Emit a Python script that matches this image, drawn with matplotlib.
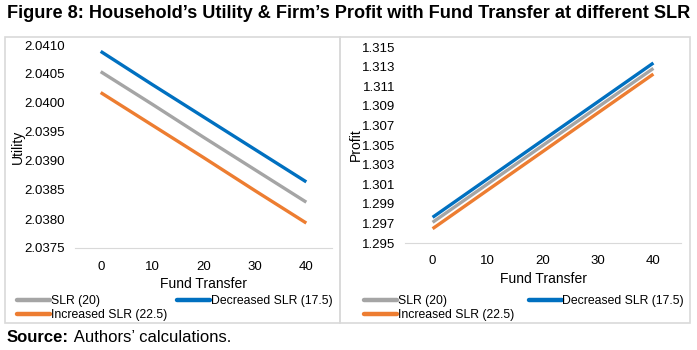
import matplotlib.pyplot as plt
from matplotlib.patches import Rectangle

plt.rcParams['font.family'] = ['Liberation Sans', 'DejaVu Sans']

# data
fund_transfer = [0, 10, 20, 30, 40]
utility_slr20 = [2.04054, 2.03998, 2.03941, 2.03885, 2.03829]
utility_dec = [2.04089, 2.04032, 2.03976, 2.03920, 2.03864]
utility_inc = [2.04018, 2.03962, 2.03906, 2.03849, 2.03793]
profit_slr20 = [1.29711, 1.30104, 1.30497, 1.30889, 1.31282]
profit_dec = [1.29762, 1.30156, 1.30550, 1.30943, 1.31337]
profit_inc = [1.29646, 1.30041, 1.30435, 1.30830, 1.31224]
utility_ticks = [2.0375, 2.0380, 2.0385, 2.0390, 2.0395, 2.0400, 2.0405, 2.0410]
profit_ticks = [1.295, 1.297, 1.299, 1.301, 1.303, 1.305, 1.307, 1.309, 1.311, 1.313, 1.315]

c_gray = '#A5A5A5'
c_blue = '#0070C0'
c_orange = '#ED7D31'

fig = plt.figure(figsize=(6.97, 3.5), dpi=100)
W, H = 697, 350

def box(x0, y0, x1, y1):
    # pixel coords from top-left -> figure fraction
    return [x0 / W, 1 - y1 / H, (x1 - x0) / W, (y1 - y0) / H]

# panel frames
for x0, x1 in [(5, 340), (340, 690)]:
    fig.patches.append(Rectangle((x0 / W, 1 - 323 / H), (x1 - x0) / W, (323 - 37) / H,
                                 transform=fig.transFigure, fill=False,
                                 edgecolor='#D9D9D9', linewidth=1.2))

fig.text(7 / W, 1 - 13 / H, "Figure 8: Household\u2019s Utility & Firm\u2019s Profit with Fund Transfer at different SLR",
         fontsize=13.1, fontweight='bold', va='center', ha='left')
src = fig.text(7 / W, 1 - 337 / H, "Source:", fontsize=12, fontweight='bold', va='center', ha='left')
src_rest = fig.text(7 / W, 1 - 337 / H, " Authors\u2019 calculations.", fontsize=12, va='center', ha='left')
fig.canvas.draw()
bb = src.get_window_extent()
src_rest.set_position((bb.x1 / W + 1 / W, 1 - 337 / H))

panels = [
    (box(75, 45, 332, 248), utility_slr20, utility_dec, utility_inc, utility_ticks, '{:.4f}', 'Utility', 25, 17, 0.85),
    (box(405, 47, 681, 243), profit_slr20, profit_dec, profit_inc, profit_ticks, '{:.3f}', 'Profit', 363, 364, 1.2),
]

for rect, s20, dec, inc, ticks, fmt, ylab, ylab_x, leg_x, colsp in panels:
    ax = fig.add_axes(rect)
    l20, = ax.plot(fund_transfer, s20, color=c_gray, lw=2.4, solid_capstyle='butt', label='SLR (20)')
    ldec, = ax.plot(fund_transfer, dec, color=c_blue, lw=2.4, solid_capstyle='butt', label='Decreased SLR (17.5)')
    linc, = ax.plot(fund_transfer, inc, color=c_orange, lw=2.4, solid_capstyle='butt', label='Increased SLR (22.5)')
    ax.set_xlim(-5, 45)
    ax.set_ylim(ticks[0], ticks[-1])
    ax.set_xticks(fund_transfer)
    ax.set_yticks(ticks)
    ax.set_yticklabels([fmt.format(t) for t in ticks])
    for s in ['top', 'right', 'left']:
        ax.spines[s].set_visible(False)
    ax.spines['bottom'].set_color('#D9D9D9')
    ax.tick_params(length=0, labelsize=9.5, colors='#000000')
    ax.tick_params(axis='x', pad=9)
    ax.tick_params(axis='y', pad=7)
    ax.set_xlabel('Fund Transfer', fontsize=10, labelpad=3)
    ax.set_ylabel(ylab, fontsize=10)
    ax.yaxis.set_label_coords((ylab_x - rect[0] * W) / (rect[2] * W), 0.5)
    leg = fig.legend(handles=[l20, linc, ldec], ncol=2, loc='upper left', frameon=False,
                     bbox_to_anchor=(leg_x / W, 1 - 295 / H),
                     fontsize=8.8, handlelength=2.7, handletextpad=0.05, columnspacing=colsp,
                     labelspacing=0.2, borderaxespad=0, borderpad=0)
    for ln in leg.get_lines():
        ln.set_linewidth(3.2)
        ln.set_solid_capstyle('round')

fig.savefig('out.png', dpi=100)
